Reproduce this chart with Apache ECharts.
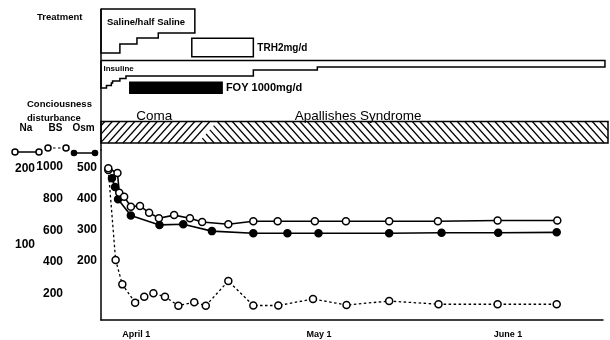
<!DOCTYPE html>
<html><head><meta charset="utf-8">
<script src="https://cdn.jsdelivr.net/npm/echarts@6/dist/echarts.min.js"></script>
<style>html,body{margin:0;padding:0;background:#fff}#c{width:610px;height:340px}</style>
</head><body><div id="c"></div>
<script>
// ---------- data (days relative to April 1) ----------
const tickDays = [0, 30, 61];
const tickLabels = ['April 1', 'May 1', 'June 1'];

const naDays   = [-4.6,-3.1,-2.8,-2.0,-0.9,0.6,2.1,3.7,6.2,8.8,10.8,15.1,19.2,23.2,29.3,34.4,41.5,49.5,59.3,69.1];
const naValues = [200,194,168,163,150,151,142,135,139,135,130,127,131,131,131,131,131,131,132,132];

const osmDays   = [-4.0,-3.5,-3.0,-0.9,3.8,7.7,12.4,19.2,24.8,29.9,41.5,50.1,59.4,69.0];
const osmValues = [465,437,397,345,315,317,295,288,288,288,288,290,290,291];

const bsDays   = [-4.6,-3.4,-2.3,-0.2,1.3,2.8,4.7,6.9,9.5,11.4,15.1,19.2,23.3,29.0,34.5,41.5,49.6,59.3,69.0];
const bsValues = [979,412,259,144,181,203,181,125,146,125,280,126,126,167,129,154,134,134,134];

const naTicks  = [100, 200];
const bsTicks  = [200, 400, 600, 800, 1000];
const osmTicks = [200, 300, 400, 500];

// treatment schedule
const salineStart = [-5.8, -2.7, 0.1, 3.6];
const salineDose  = [4.4, 3.5, 2.9, 2.4];
const salineEnd   = 9.6;
const trhPeriod   = [9.1, 19.2];
const insulinStart = [-5.8, -4.9, -4.1, -3.9, -2.7, -1.7, 19.2, 29.7];
const insulinDose  = [11, 10, 9, 8.2, 7.2, 6.2, 3.8, 2.6];
const insulinEnd   = 76.9;
const foyPeriod    = [-1.2, 14.2];
const comaPeriod   = [-5.8, 11.7];
const apallicEnd   = 77.4;

// ---------- axis extents & layout ----------
const X_MIN = -5.8, X_MAX_LAB = 76.6, X_MAX_TOP = 77.4;
const osmRange = [9.6, 555.5], bsRange = [34.7, 1104.9], naRange = [2.2, 223.9];
const FONT = '"Liberation Sans", Arial, sans-serif';
const L = {salineTop:0, salineScale:10, trhTop:29.3, trhBottom:47.7,
  insulinTop:51.5, insulinScale:2.5, foyTop:72.5, foyBottom:85,
  hatchTop:112.5, hatchBottom:134, slant:0.9, gap:7.5, apallicLabelDx:87};

const zip = (a, b) => a.map((v, i) => [v, b[i]]);

function staircase(starts, levels, end, top, scale, X, Y) {
  const pts = [[X(starts[0]), Y(top)], [X(end), Y(top)]];
  for (let i = starts.length - 1; i >= 0; i--) {
    const nx = i === starts.length - 1 ? end : starts[i + 1];
    const ly = Y(top + levels[i] * scale);
    pts.push([X(nx), ly]); pts.push([X(starts[i]), ly]);
  }
  pts.push([X(starts[0]), Y(top)]);
  return pts;
}

function clipSeg(p0, p1, poly) {
  let cx = 0, cy = 0; poly.forEach(p => { cx += p[0]; cy += p[1]; });
  cx /= poly.length; cy /= poly.length;
  let t0 = 0, t1 = 1; const dx = p1[0] - p0[0], dy = p1[1] - p0[1];
  for (let i = 0; i < poly.length; i++) {
    const a = poly[i], b = poly[(i + 1) % poly.length];
    let nx = -(b[1] - a[1]), ny = b[0] - a[0];
    if (nx * (cx - a[0]) + ny * (cy - a[1]) < 0) { nx = -nx; ny = -ny; }
    const num = nx * (p0[0] - a[0]) + ny * (p0[1] - a[1]);
    const den = nx * dx + ny * dy;
    if (Math.abs(den) < 1e-9) { if (num < 0) return null; continue; }
    const t = -num / den;
    if (den > 0) t0 = Math.max(t0, t); else t1 = Math.min(t1, t);
    if (t0 > t1) return null;
  }
  return [[p0[0] + t0 * dx, p0[1] + t0 * dy], [p0[0] + t1 * dx, p0[1] + t1 * dy]];
}

const stroke = {stroke:'#000', lineWidth:1.5, fill:null};
const txt = (text, x, y, size, weight, align) => ({type:'text', x, y,
  style:{text, font:(weight||'bold') + ' ' + size + 'px ' + FONT, fill:'#000', align:align||'left', verticalAlign:'middle'}});

function helpers(api) {
  return {X: d => api.coord([d, 0])[0], Y: r => api.coord([X_MIN, r])[1]};
}

const chart = echarts.init(document.getElementById('c'), null, {renderer:'canvas'});
const lineSeries = (name, days, vals, yi, filled, dashed) => ({
  name, type:'line', xAxisIndex:1, yAxisIndex:yi, data:zip(days, vals),
  symbol:'circle', symbolSize:7, showSymbol:true, animation:false,
  lineStyle:{color:'#000', width: dashed ? 1.3 : 1.6, type: dashed ? [2.5, 2.5] : 'solid'},
  itemStyle:{color: filled ? '#000' : '#fff', borderColor:'#000', borderWidth:1.5}
});
const numLabel = (vals) => ({customValues:vals, formatter:v => String(v), color:'#000', fontSize:12,
  fontWeight:'bold', fontFamily:FONT, margin:4});

chart.setOption({
  animation:false,
  backgroundColor:'#fff',
  grid:[
    {left:101, top:9, width:507, height:141, outerBoundsMode:'none'},
    {left:101, top:150, width:502, height:170, outerBoundsMode:'none'}
  ],
  xAxis:[
    {gridIndex:0, type:'value', min:X_MIN, max:X_MAX_TOP, show:false},
    {gridIndex:1, type:'value', min:X_MIN, max:X_MAX_LAB, position:'bottom',
      axisLine:{onZero:false, lineStyle:{color:'#000', width:1.5}}, axisTick:{show:false}, splitLine:{show:false},
      axisLabel:{customValues:tickDays, formatter:v => tickLabels[tickDays.indexOf(v)] || '',
        color:'#000', fontSize:9, fontWeight:'bold', fontFamily:FONT, margin:10}}
  ],
  yAxis:[
    {gridIndex:0, type:'value', min:0, max:141, inverse:true, position:'left',
      axisLine:{show:true, onZero:false, lineStyle:{color:'#000', width:1.5}}, axisTick:{show:false},
      axisLabel:{show:false}, splitLine:{show:false}},
    {gridIndex:1, type:'value', min:osmRange[0], max:osmRange[1], position:'left',
      axisLine:{show:true, onZero:false, lineStyle:{color:'#000', width:1.5}}, axisTick:{show:false}, splitLine:{show:false},
      axisLabel:numLabel(osmTicks)},
    {gridIndex:1, type:'value', min:bsRange[0], max:bsRange[1], position:'left', offset:34,
      axisLine:{show:false, onZero:false}, axisTick:{show:false}, splitLine:{show:false},
      axisLabel:numLabel(bsTicks)},
    {gridIndex:1, type:'value', min:naRange[0], max:naRange[1], position:'left', offset:62,
      axisLine:{show:false, onZero:false}, axisTick:{show:false}, splitLine:{show:false},
      axisLabel:numLabel(naTicks)}
  ],
  graphic:[
    txt('Treatment', 37, 17, 9.5),
    txt('Conciousness', 27, 104, 9.5),
    txt('disturbance', 27, 118, 9.5),
    txt('Na', 26, 128.5, 10, 'bold', 'center'),
    txt('BS', 55.5, 128.5, 10, 'bold', 'center'),
    txt('Osm', 83.5, 128.5, 10, 'bold', 'center'),
    {type:'line', shape:{x1:15, y1:152, x2:39, y2:152}, style:{stroke:'#000', lineWidth:1.5}},
    {type:'circle', shape:{cx:15, cy:152, r:3}, style:{fill:'#fff', stroke:'#000', lineWidth:1.5}},
    {type:'circle', shape:{cx:39, cy:152, r:3}, style:{fill:'#fff', stroke:'#000', lineWidth:1.5}},
    {type:'line', shape:{x1:48, y1:148, x2:66, y2:148}, style:{stroke:'#000', lineWidth:1.2, lineDash:[2.5,2.5]}},
    {type:'circle', shape:{cx:48, cy:148, r:3}, style:{fill:'#fff', stroke:'#000', lineWidth:1.5}},
    {type:'circle', shape:{cx:66, cy:148, r:3}, style:{fill:'#fff', stroke:'#000', lineWidth:1.5}},
    {type:'line', shape:{x1:74, y1:153, x2:95, y2:153}, style:{stroke:'#000', lineWidth:1.5}},
    {type:'circle', shape:{cx:74, cy:153, r:3.3}, style:{fill:'#000'}},
    {type:'circle', shape:{cx:95, cy:153, r:3.3}, style:{fill:'#000'}}
  ],
  series:[
    {type:'custom', xAxisIndex:0, yAxisIndex:0, clip:false, silent:true, data:[[X_MIN, 0]],
      renderItem:(p, api) => {
        const {X, Y} = helpers(api);
        const pts = staircase(salineStart, salineDose, salineEnd, L.salineTop, L.salineScale, X, Y);
        const ipts = staircase(insulinStart, insulinDose, insulinEnd, L.insulinTop, L.insulinScale, X, Y);
        return {type:'group', children:[
          {type:'polyline', shape:{points:pts}, style:stroke},
          txt('Saline/half Saline', X(salineStart[0]) + 6, Y(13), 9.5),
          {type:'rect', shape:{x:X(trhPeriod[0]), y:Y(L.trhTop), width:X(trhPeriod[1]) - X(trhPeriod[0]), height:Y(L.trhBottom) - Y(L.trhTop)}, style:stroke},
          txt('TRH2mg/d', X(trhPeriod[1]) + 4, (Y(L.trhTop) + Y(L.trhBottom)) / 2 + 1, 10),
          {type:'polyline', shape:{points:ipts}, style:stroke},
          txt('Insuline', X(insulinStart[0]) + 2.5, Y(L.insulinTop + 8.5), 8),
          {type:'rect', shape:{x:X(foyPeriod[0]), y:Y(L.foyTop), width:X(foyPeriod[1]) - X(foyPeriod[0]), height:Y(L.foyBottom) - Y(L.foyTop)}, style:{fill:'#000'}},
          txt('FOY 1000mg/d', X(foyPeriod[1]) + 3, (Y(L.foyTop) + Y(L.foyBottom)) / 2 + 0.5, 11)
        ]};
      }},
    {type:'custom', xAxisIndex:0, yAxisIndex:0, clip:false, silent:true, data:[[X_MIN, 0]],
      renderItem:(p, api) => {
        const {X, Y} = helpers(api);
        const yT = Y(L.hatchTop), yB = Y(L.hatchBottom), h = yB - yT, k = L.slant;
        const xL = X(comaPeriod[0]), xM = X(comaPeriod[1]), xR = X(apallicEnd);
        const half = k * h / 2, xCT = xM + half, xCB = xM - half;
        const comaPoly = [[xL, yT], [xCT, yT], [xCB, yB], [xL, yB]];
        const apaPoly = [[xCT, yT], [xR, yT], [xR, yB], [xCB, yB]];
        const ch = [];
        const push = s => { if (s && Math.hypot(s[1][0]-s[0][0], s[1][1]-s[0][1]) > 0.5)
          ch.push({type:'line', shape:{x1:s[0][0], y1:s[0][1], x2:s[1][0], y2:s[1][1]}, style:{stroke:'#000', lineWidth:1.2}}); };
        for (let c = xCB; c > xL - k * h - L.gap; c -= L.gap)
          push(clipSeg([c - k * 10, yB + 10], [c + k * (h + 10), yT - 10], comaPoly));
        for (let c = xCT - Math.ceil(2 * k * h / L.gap) * L.gap; c < xR + L.gap; c += L.gap)
          push(clipSeg([c - k * 10, yT - 10], [c + k * (h + 10), yB + 10], apaPoly));
        ch.push({type:'rect', shape:{x:xL, y:yT, width:xR - xL, height:h}, style:stroke});
        ch.push(txt('Coma', (X(comaPeriod[0]) + X(comaPeriod[1])) / 2, yT - 5, 13.5, 'normal', 'center'));
        ch.push(txt('Apallishes Syndrome', xM + L.apallicLabelDx, yT - 5, 13.5, 'normal', 'left'));
        return {type:'group', children:ch};
      }},
    lineSeries('BS', bsDays, bsValues, 2, false, true),
    lineSeries('Osm', osmDays, osmValues, 1, true, false),
    lineSeries('Na', naDays, naValues, 3, false, false)
  ]
});
</script></body></html>
